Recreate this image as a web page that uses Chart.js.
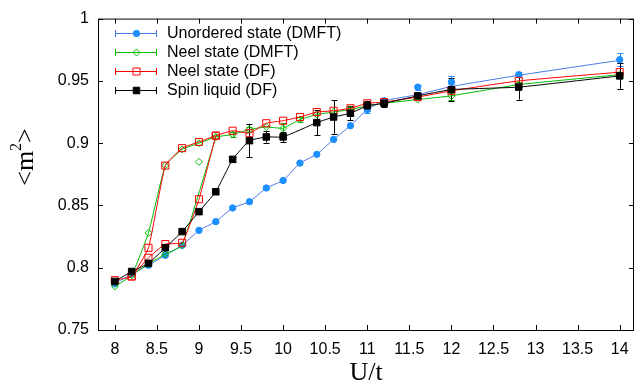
<!DOCTYPE html>
<html>
<head>
<meta charset="utf-8">
<title>m2 vs U/t</title>
<script src="https://cdn.jsdelivr.net/npm/chart.js@4.4.0/dist/chart.umd.min.js"></script>
<style>
  body { margin: 0; background: #fff; }
  canvas { display: block; }
</style>
</head>
<body>
<canvas id="myChart" width="644" height="387"></canvas>
<script>
// U/t grid used by most series
const uAll = [8, 8.2, 8.4, 8.6, 8.8, 9, 9.2, 9.4, 9.6, 9.8, 10, 10.2, 10.4, 10.6, 10.8, 11, 11.2, 11.6, 12, 12.8, 14];

// Unordered state (DMFT): points, error bars and the smooth curve drawn through them
const unordered      = [0.787, 0.795, 0.802, 0.810, 0.818, 0.830, 0.837, 0.848, 0.853, 0.864, 0.870, 0.884, 0.891, 0.903, 0.914, 0.927, 0.934, 0.945, 0.949, 0.955, 0.967];
const unorderedErr   = [0, 0, 0, 0, 0, 0, 0, 0, 0, 0, 0, 0, 0, 0, 0, 0.003, 0.002, 0.002, 0.005, 0.002, 0.005];
const unorderedCurve = [0.787, 0.795, 0.802, 0.810, 0.818, 0.830, 0.837, 0.848, 0.853, 0.864, 0.870, 0.884, 0.891, 0.903, 0.914, 0.927, 0.934, 0.939, 0.9455, 0.9545, 0.9665];

// Neel state (DMFT): upper branch, lower branch, and a lone point at 9
const neelDmft    = [0.785, 0.794, 0.828, 0.882, 0.895, 0.900, 0.905, 0.907, 0.911, 0.913, 0.912, 0.919, 0.923, 0.925, 0.927, 0.930, 0.932, 0.935, 0.938, 0.947, 0.955];
const neelDmftErr = [0, 0, 0, 0, 0, 0, 0, 0.002, 0.002, 0, 0.004, 0.002, 0, 0, 0.002, 0, 0, 0, 0.003, 0.002, 0.002];
const uDmftLow    = [8.2, 8.4, 8.6, 8.8, 9.2];
const neelDmftLow = [0.794, 0.803, 0.811, 0.818, 0.905];
const uDmftOdd    = [9];
const neelDmftOdd = [0.885];

// Neel state (DF): upper and lower branch
const neelDf    = [0.790, 0.793, 0.816, 0.882, 0.896, 0.901, 0.906, 0.910, 0.908, 0.916, 0.918, 0.921, 0.925, 0.926, 0.928, 0.932, 0.933, 0.937, 0.942, 0.950, 0.957];
const uDfLow    = [8.2, 8.4, 8.6, 8.8, 9, 9.2];
const neelDfLow = [0.793, 0.808, 0.819, 0.820, 0.855, 0.906];

// Spin liquid (DF)
const uSpin   = [8, 8.2, 8.4, 8.6, 8.8, 9, 9.2, 9.4, 9.6, 9.8, 10, 10.4, 10.6, 10.8, 11, 11.2, 11.6, 12, 12.8, 14];
const spin    = [0.789, 0.797, 0.8035, 0.816, 0.829, 0.845, 0.861, 0.887, 0.902, 0.905, 0.905, 0.9165, 0.921, 0.924, 0.930, 0.932, 0.938, 0.943, 0.945, 0.954];
const spinErr = [0, 0, 0, 0, 0, 0, 0, 0.002, 0.0135, 0.0045, 0.004, 0.01, 0.0135, 0.0056, 0.004, 0.003, 0.002, 0.009, 0.01, 0.0104];

const seriesNames = ['Unordered state (DMFT)', 'Neel state (DMFT)', 'Neel state (DF)', 'Spin liquid (DF)'];
const xTicks = [8, 8.5, 9, 9.5, 10, 10.5, 11, 11.5, 12, 12.5, 13, 13.5, 14];
const yTicks = [0.75, 0.8, 0.85, 0.9, 0.95, 1];

const BLUE_PT = '#1e8fff';
const BLUE_LN = '#4a78e8';
const GREEN = '#00bb00';
const RED = '#ff0000';
const BLACK = '#000000';
const SANS = "'Liberation Sans', Arial, sans-serif";
const SERIF = "'Liberation Serif', 'Times New Roman', serif";

function pts(xs, ys) {
  return xs.map((x, i) => ({ x: x, y: ys[i] }));
}

function lineSet(xs, ys, color, order) {
  return {
    data: pts(xs, ys), borderColor: color, borderWidth: 1, pointRadius: 0,
    showLine: true, tension: 0.12, order: order
  };
}

function pointSet(xs, ys, color, style, r, filled, order, errs) {
  return {
    data: pts(xs, ys), showLine: false, pointStyle: style, pointRadius: r,
    borderColor: color, backgroundColor: filled ? color : 'rgba(0,0,0,0)',
    pointBorderWidth: 1, order: order, errors: errs
  };
}

let datasets = [
  lineSet(uAll, unorderedCurve, BLUE_LN, 8),
  pointSet(uAll, unordered, BLUE_PT, 'circle', 3.2, true, 7, unorderedErr),
  lineSet(uAll, neelDmft, GREEN, 6),
  lineSet(uDmftLow, neelDmftLow, GREEN, 6),
  pointSet(uAll, neelDmft, GREEN, 'rectRot', 3.5, false, 5, neelDmftErr),
  pointSet(uDmftLow, neelDmftLow, GREEN, 'rectRot', 3.5, false, 5),
  pointSet(uDmftOdd, neelDmftOdd, GREEN, 'rectRot', 3.5, false, 5),
  lineSet(uAll, neelDf, RED, 4),
  lineSet(uDfLow, neelDfLow, RED, 4),
  pointSet(uAll, neelDf, RED, 'rect', 5, false, 3),
  pointSet(uDfLow, neelDfLow, RED, 'rect', 5, false, 3),
  lineSet(uSpin, spin, BLACK, 2),
  pointSet(uSpin, spin, BLACK, 'rect', 4.6, true, 1, spinErr)
];

// legend look for the four series
const legendStyle = [
  { color: BLUE_PT, line: BLUE_LN, style: 'circle', r: 3.2, fill: true },
  { color: GREEN, line: GREEN, style: 'rectRot', r: 3.5, fill: false },
  { color: RED, line: RED, style: 'rect', r: 5, fill: false },
  { color: BLACK, line: BLACK, style: 'rect', r: 4.6, fill: true }
];

const gnuplotLook = {
  id: 'gnuplotLook',
  beforeDatasetsDraw(chart) {
    const ctx = chart.ctx;
    const xs = chart.scales.x, ys = chart.scales.y;
    ctx.save();
    ctx.lineWidth = 1;
    chart.data.datasets.forEach(ds => {
      if (!ds.errors) return;
      ctx.strokeStyle = ds.borderColor;
      ds.data.forEach((p, i) => {
        const e = ds.errors[i];
        if (!e) return;
        const px = Math.round(xs.getPixelForValue(p.x)) + 0.5;
        const y1 = ys.getPixelForValue(p.y - e);
        const y2 = ys.getPixelForValue(p.y + e);
        ctx.beginPath();
        ctx.moveTo(px, y1); ctx.lineTo(px, y2);
        ctx.moveTo(px - 3, Math.round(y1) + 0.5); ctx.lineTo(px + 3, Math.round(y1) + 0.5);
        ctx.moveTo(px - 3, Math.round(y2) + 0.5); ctx.lineTo(px + 3, Math.round(y2) + 0.5);
        ctx.stroke();
      });
    });
    ctx.restore();
  },
  afterDraw(chart) {
    const ctx = chart.ctx;
    const a = chart.chartArea;
    const xs = chart.scales.x, ys = chart.scales.y;
    ctx.save();
    ctx.strokeStyle = '#000';
    ctx.lineWidth = 1;
    ctx.strokeRect(a.left + 0.5, a.top + 0.5, a.right - a.left - 1, a.bottom - a.top);
    ctx.beginPath();
    xTicks.forEach(v => {
      const px = Math.round(xs.getPixelForValue(v)) + 0.5;
      ctx.moveTo(px, a.bottom); ctx.lineTo(px, a.bottom - 5);
      ctx.moveTo(px, a.top); ctx.lineTo(px, a.top + 5);
    });
    yTicks.forEach(v => {
      const py = Math.round(ys.getPixelForValue(v)) + 0.5;
      ctx.moveTo(a.left, py); ctx.lineTo(a.left + 5, py);
      ctx.moveTo(a.right, py); ctx.lineTo(a.right - 5, py);
    });
    ctx.stroke();

    // axis titles
    ctx.fillStyle = '#000';
    ctx.font = '26px ' + SERIF;
    ctx.textAlign = 'center';
    ctx.textBaseline = 'alphabetic';
    ctx.fillText('U/t', (a.left + a.right) / 2, 380);

    ctx.save();
    ctx.translate(33, 157);
    ctx.rotate(-Math.PI / 2);
    ctx.textAlign = 'left';
    ctx.font = '26px ' + SERIF;
    const w1 = ctx.measureText('<m').width;
    const w3 = ctx.measureText('>').width;
    ctx.font = '16px ' + SERIF;
    const w2 = ctx.measureText('2').width;
    let x0 = -(w1 + w2 + w3) / 2;
    ctx.font = '26px ' + SERIF;
    ctx.fillText('<m', x0, 0);
    ctx.font = '16px ' + SERIF;
    ctx.fillText('2', x0 + w1, -12);
    ctx.font = '26px ' + SERIF;
    ctx.fillText('>', x0 + w1 + w2, 0);
    ctx.restore();

    // legend
    ctx.font = '16px ' + SANS;
    ctx.textAlign = 'left';
    ctx.textBaseline = 'middle';
    seriesNames.forEach((name, i) => {
      const s = legendStyle[i];
      const y = 33.5 + i * 19;
      ctx.strokeStyle = s.line;
      ctx.lineWidth = 1;
      ctx.beginPath();
      ctx.moveTo(115, y); ctx.lineTo(157, y);
      ctx.moveTo(115.5, y - 3.5); ctx.lineTo(115.5, y + 3.5);
      ctx.moveTo(156.5, y - 3.5); ctx.lineTo(156.5, y + 3.5);
      ctx.stroke();
      ctx.strokeStyle = s.color;
      ctx.fillStyle = s.fill ? s.color : 'rgba(0,0,0,0)';
      Chart.helpers.drawPoint(ctx, { pointStyle: s.style, radius: s.r, rotation: 0, borderWidth: 1 }, 136.5, y);
      ctx.fillStyle = '#000';
      ctx.fillText(name, 167, y);
    });
    ctx.restore();
  }
};

let myChart = new Chart(document.getElementById('myChart'), {
  type: 'line',
  data: { datasets: datasets },
  options: {
    responsive: false,
    animation: false,
    devicePixelRatio: 1,
    layout: { padding: { left: 0, top: 17, right: 10, bottom: 0 } },
    plugins: { legend: { display: false }, tooltip: { enabled: false } },
    scales: {
      x: {
        type: 'linear', min: 7.8, max: 14.17,
        grid: { display: false, drawTicks: false },
        border: { display: false },
        afterBuildTicks: s => { s.ticks = xTicks.map(v => ({ value: v })); },
        afterFit: s => { s.height = 57; },
        ticks: { padding: 10, color: '#000', font: { family: SANS, size: 16 }, maxRotation: 0, autoSkip: false,
                 callback: v => String(v) }
      },
      y: {
        type: 'linear', min: 0.75, max: 1,
        grid: { display: false, drawTicks: false },
        border: { display: false },
        afterBuildTicks: s => { s.ticks = yTicks.map(v => ({ value: v })); },
        afterFit: s => { s.width = 98; },
        ticks: { padding: 9, color: '#000', font: { family: SANS, size: 16 }, autoSkip: false,
                 callback: v => String(v) }
      }
    }
  },
  plugins: [gnuplotLook]
});
</script>
</body>
</html>
